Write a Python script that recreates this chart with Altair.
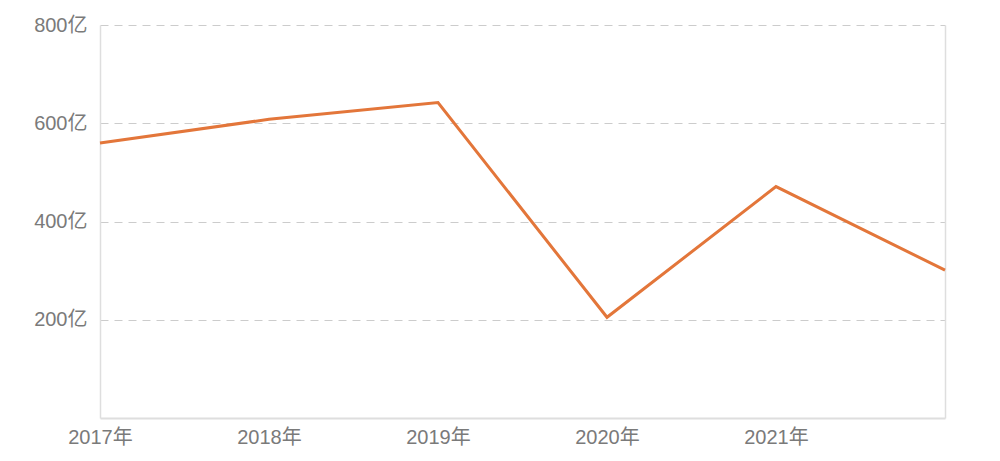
import altair as alt
import pandas as pd

years = ["2017", "2018", "2019", "2020", "2021", "2022"]
values = [560, 608, 642, 205, 471, 301]
x_label_years = ["2017", "2018", "2019", "2020", "2021"]
y_ticks = [200, 400, 600, 800]

df = pd.DataFrame({"year": years, "value": values})

FONT = "Liberation Sans, Noto Sans CJK SC, sans-serif"
LABEL_COLOR = "#7a7a7a"

base = alt.Chart(df)

x_enc = alt.X(
    "year:O",
    scale=alt.Scale(type="point", padding=0, domain=years),
    axis=alt.Axis(
        title=None,
        values=x_label_years,
        labelExpr="datum.value + '年'",
        labelAngle=0,
        ticks=False,
        grid=False,
        domainColor="#dedede",
        domainWidth=2,
        labelPadding=9,
        labelFontSize=20,
        labelColor=LABEL_COLOR,
        labelFont=FONT,
    ),
)

line = base.mark_line(color="#E3763A", strokeWidth=3, strokeJoin="miter").encode(
    x=x_enc,
    y=alt.Y(
        "value:Q",
        scale=alt.Scale(domain=[0, 800], nice=False),
        axis=alt.Axis(
            title=None,
            values=y_ticks,
            labelExpr="datum.value + '亿'",
            ticks=False,
            grid=True,
            gridColor="#cccccc",
            gridDash=[8, 6],
            gridWidth=1,
            domainColor="#dedede",
            domainWidth=1.5,
            labelPadding=13,
            labelFontSize=20,
            labelColor=LABEL_COLOR,
            labelFont=FONT,
        ),
    ),
)

right = base.mark_line(opacity=0).encode(
    x=alt.X("year:O", scale=alt.Scale(type="point", padding=0, domain=years)),
    y=alt.Y(
        "value:Q",
        scale=alt.Scale(domain=[0, 800], nice=False),
        axis=alt.Axis(
            orient="right",
            title=None,
            labels=False,
            ticks=False,
            grid=False,
            domainColor="#dedede",
            domainWidth=1.5,
        ),
    ),
)

chart = (
    alt.layer(line, right)
    .resolve_axis(y="independent")
    .properties(
        width=845,
        height=393,
        autosize=alt.AutoSizeParams(type="none"),
        padding={"left": 92, "top": 17, "right": 40, "bottom": 30},
        background="white",
    )
    .configure_view(stroke=None)
)

chart.save("out.html", embed_options={"renderer": "svg", "actions": False})
